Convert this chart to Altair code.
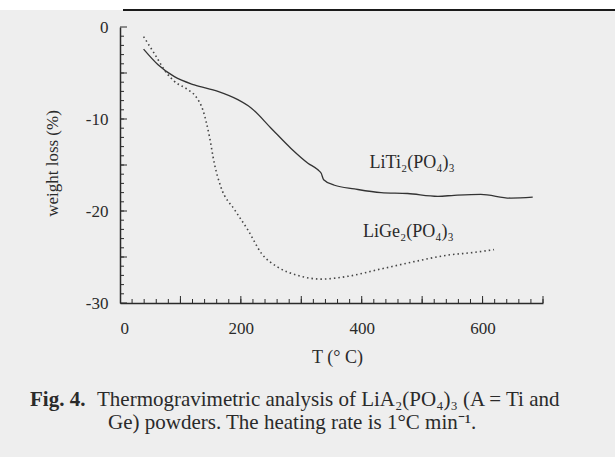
import altair as alt
import pandas as pd

# ---- data ----
T_ti = [39, 63, 90, 123, 162, 195, 217, 250, 283, 311, 327, 333, 337, 355, 388, 432, 476, 526, 553, 597, 647, 683]
w_ti = [-2.4, -4.1, -5.4, -6.3, -7.0, -7.9, -8.8, -11.0, -13.2, -14.8, -15.5, -15.9, -16.6, -17.2, -17.6, -18.0,
        -18.1, -18.4, -18.3, -18.2, -18.6, -18.5]

T_ge = [39, 57, 77, 90, 112, 126, 137, 148, 156, 167, 190, 212, 234, 261, 294, 333, 377, 432, 487, 542, 586, 619]
w_ge = [-1.05, -2.9, -5.0, -5.9, -6.8, -7.6, -9.0, -11.9, -14.8, -17.4, -19.9, -22.1, -24.6, -26.1, -27.0, -27.4,
        -27.1, -26.3, -25.5, -24.8, -24.5, -24.2]

series_names = ["LiTi₂(PO₄)₃", "LiGe₂(PO₄)₃"]
label_T = [413, 402]
label_w = [-14.8, -22.3]

x_labels = [0, 200, 400, 600]
y_labels = [0, -10, -20, -30]

caption_bold = "Fig. 4."
caption_line1 = "Thermogravimetric analysis of LiA₂(PO₄)₃ (A = Ti and"
caption_line2 = "Ge) powders. The heating rate is 1°C min⁻¹."

# ---- layout ----
W, H = 423, 276
PAD_L, PAD_T = 120, 27
FONT = "Liberation Serif"
INK = "#2a2a2a"

ti = pd.DataFrame({"T": T_ti, "w": w_ti})
ge = pd.DataFrame({"T": T_ge, "w": w_ge})
labels = pd.DataFrame({"T": label_T, "w": label_w, "name": series_names})

xs = alt.Scale(domain=[0, 700], nice=False, zero=False)
ys = alt.Scale(domain=[-30, 0], nice=False, zero=False)

x_axis = alt.Axis(values=x_labels, ticks=False, tickSize=0, grid=False, labelPadding=17,
                  labelFont=FONT, labelFontSize=17, labelColor=INK, domainColor=INK, domainWidth=1.5,
                  title="T (° C)", titleFont=FONT, titleFontSize=18, titleFontWeight="normal",
                  titleColor=INK, titleX=217, titleY=54, titleBaseline="middle")
y_axis = alt.Axis(values=y_labels, ticks=False, tickSize=0, grid=False, labelPadding=12,
                  labelExpr="'' + datum.value",
                  labelFont=FONT, labelFontSize=17, labelColor=INK, domainColor=INK, domainWidth=1.5,
                  title="weight loss (%)", titleFont=FONT, titleFontSize=17, titleFontWeight="normal",
                  titleColor=INK, titleX=-68, titleY=136, titleAngle=-90, titleBaseline="middle",
                  titleAlign="center")

line_ti = alt.Chart(ti).mark_line(color="#333333", strokeWidth=1.3, interpolate="monotone").encode(
    x=alt.X("T:Q", scale=xs, axis=x_axis),
    y=alt.Y("w:Q", scale=ys, axis=y_axis),
)
line_ge = alt.Chart(ge).mark_line(color="#444444", strokeWidth=1.6, strokeDash=[1.5, 3],
                                  interpolate="monotone").encode(
    x=alt.X("T:Q", scale=xs),
    y=alt.Y("w:Q", scale=ys),
)

lbl = alt.Chart(labels).mark_text(font=FONT, fontSize=18, color=INK, align="left", baseline="middle").encode(
    x=alt.X("T:Q", scale=xs), y=alt.Y("w:Q", scale=ys), text="name:N"
)

# inward ticks
xt_minor = pd.DataFrame({"T": list(range(20, 701, 20))})
xt_major = pd.DataFrame({"T": list(range(100, 701, 100))})
yt_minor = pd.DataFrame({"w": list(range(-29, 0, 1))})
yt_major = pd.DataFrame({"w": list(range(-30, 1, 5))})

xt1 = alt.Chart(xt_minor).mark_rule(color=INK, strokeWidth=1).encode(
    x=alt.X("T:Q", scale=xs), y=alt.value(H), y2=alt.value(H - 4))
xt2 = alt.Chart(xt_major).mark_rule(color=INK, strokeWidth=1).encode(
    x=alt.X("T:Q", scale=xs), y=alt.value(H), y2=alt.value(H - 7))
yt1 = alt.Chart(yt_minor).mark_rule(color=INK, strokeWidth=1).encode(
    y=alt.Y("w:Q", scale=ys), x=alt.value(0), x2=alt.value(4))
yt2 = alt.Chart(yt_major).mark_rule(color=INK, strokeWidth=1).encode(
    y=alt.Y("w:Q", scale=ys), x=alt.value(0), x2=alt.value(7))

one = pd.DataFrame({"k": [0]})
top_band = alt.Chart(one).mark_rect(color="#ffffff").encode(
    x=alt.value(-PAD_L), x2=alt.value(615 - PAD_L), y=alt.value(-PAD_T), y2=alt.value(-17))
top_rule = alt.Chart(one).mark_rule(color="#1a1a1a", strokeWidth=2).encode(
    x=alt.value(3), x2=alt.value(615 - PAD_L), y=alt.value(-17))

cap_b = alt.Chart(one).mark_text(font=FONT, fontSize=21, fontWeight="bold", color=INK, align="left",
                                 baseline="alphabetic", text=caption_bold).encode(
    x=alt.value(-90), y=alt.value(379))
cap_1 = alt.Chart(one).mark_text(font=FONT, fontSize=21, color=INK, align="left",
                                 baseline="alphabetic", text=caption_line1).encode(
    x=alt.value(-23), y=alt.value(379))
cap_2 = alt.Chart(one).mark_text(font=FONT, fontSize=21, color=INK, align="left",
                                 baseline="alphabetic", text=caption_line2).encode(
    x=alt.value(-12), y=alt.value(402))

chart = alt.layer(
    top_band, top_rule, line_ti, line_ge, lbl, xt1, xt2, yt1, yt2, cap_b, cap_1, cap_2
).properties(
    width=W, height=H,
    autosize=alt.AutoSizeParams(type="none"),
    padding={"left": PAD_L, "top": PAD_T, "right": 615 - PAD_L - W, "bottom": 457 - PAD_T - H},
    background="#eeeeee",
).configure_view(stroke=None)

chart.save("out.html", embed_options={"renderer": "svg", "actions": False})
